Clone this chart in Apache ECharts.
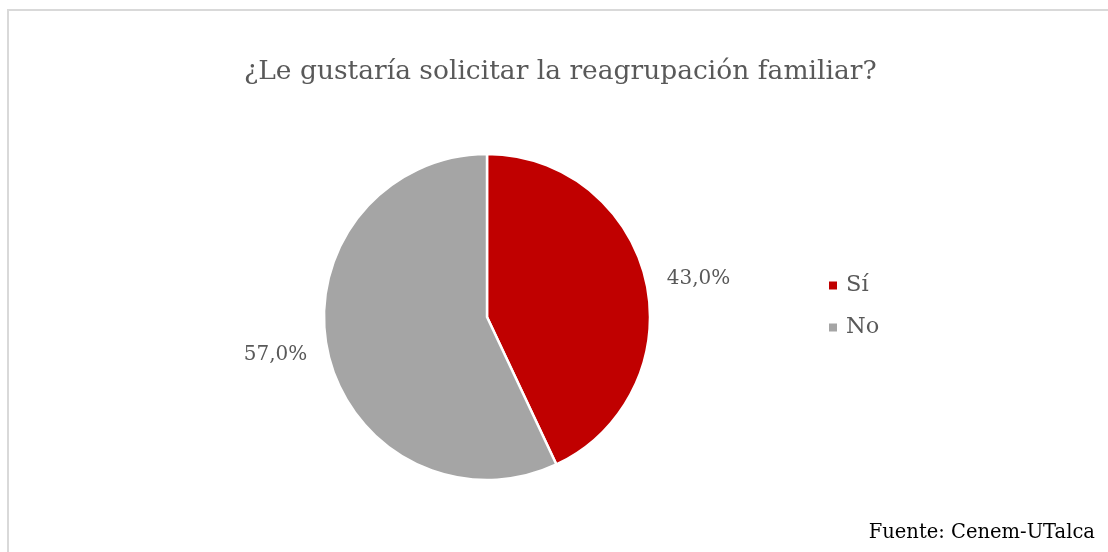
<!DOCTYPE html>
<html>
<head>
<meta charset="utf-8">
<script src="https://cdn.jsdelivr.net/npm/echarts@6/dist/echarts.min.js"></script>
<style>
html,body{margin:0;padding:0;background:#fff;}
#frame{position:absolute;left:7px;top:9px;width:1110px;height:560px;border:2px solid #d9d9d9;box-sizing:border-box;}
#chart{position:absolute;left:0;top:0;width:1108px;height:552px;}
</style>
</head>
<body>
<div id="frame"></div>
<div id="chart"></div>
<script>
const titleText = '¿Le gustaría solicitar la reagrupación familiar?';
const categories = ['Sí', 'No'];
const values = [43.0, 57.0];
const colors = ['#C00000', '#A5A5A5'];
const sourceText = 'Fuente: Cenem-UTalca';

const chart = echarts.init(document.getElementById('chart'), null, {renderer: 'canvas'});
const serif = '"DejaVu Serif", "Liberation Serif", serif';
chart.setOption({
  animation: false,
  title: [{
    text: titleText,
    left: 239,
    top: 54,
    textStyle: {fontFamily: serif, fontSize: 26.5, fontWeight: 'normal', color: '#595959'}
  }, {
    text: sourceText,
    right: 8,
    top: 518,
    textStyle: {fontFamily: serif, fontSize: 19.5, fontWeight: 'normal', color: '#000000'}
  }],
  legend: {
    orient: 'vertical',
    left: 822,
    top: 269,
    itemWidth: 10,
    itemHeight: 10,
    itemGap: 19,
    icon: 'rect',
    textStyle: {fontFamily: serif, fontSize: 22.5, color: '#595959', padding: [0,0,0,3]},
    data: categories
  },
  series: [{
    type: 'pie',
    center: [487, 317],
    radius: 163,
    startAngle: 90,
    clockwise: true,
    data: categories.map((c, i) => ({name: c, value: values[i], itemStyle: {color: colors[i]}})),
    itemStyle: {borderColor: '#ffffff', borderWidth: 2.5},
    label: {
      show: true,
      position: 'outside',
      formatter: p => p.value.toFixed(1).replace('.', ',') + '%',
      fontFamily: serif,
      fontSize: 20,
      color: '#595959'
    },
    labelLine: {show: false, length: 12, length2: 4},
    emphasis: {disabled: true}
  }]
});
</script>
</body>
</html>
